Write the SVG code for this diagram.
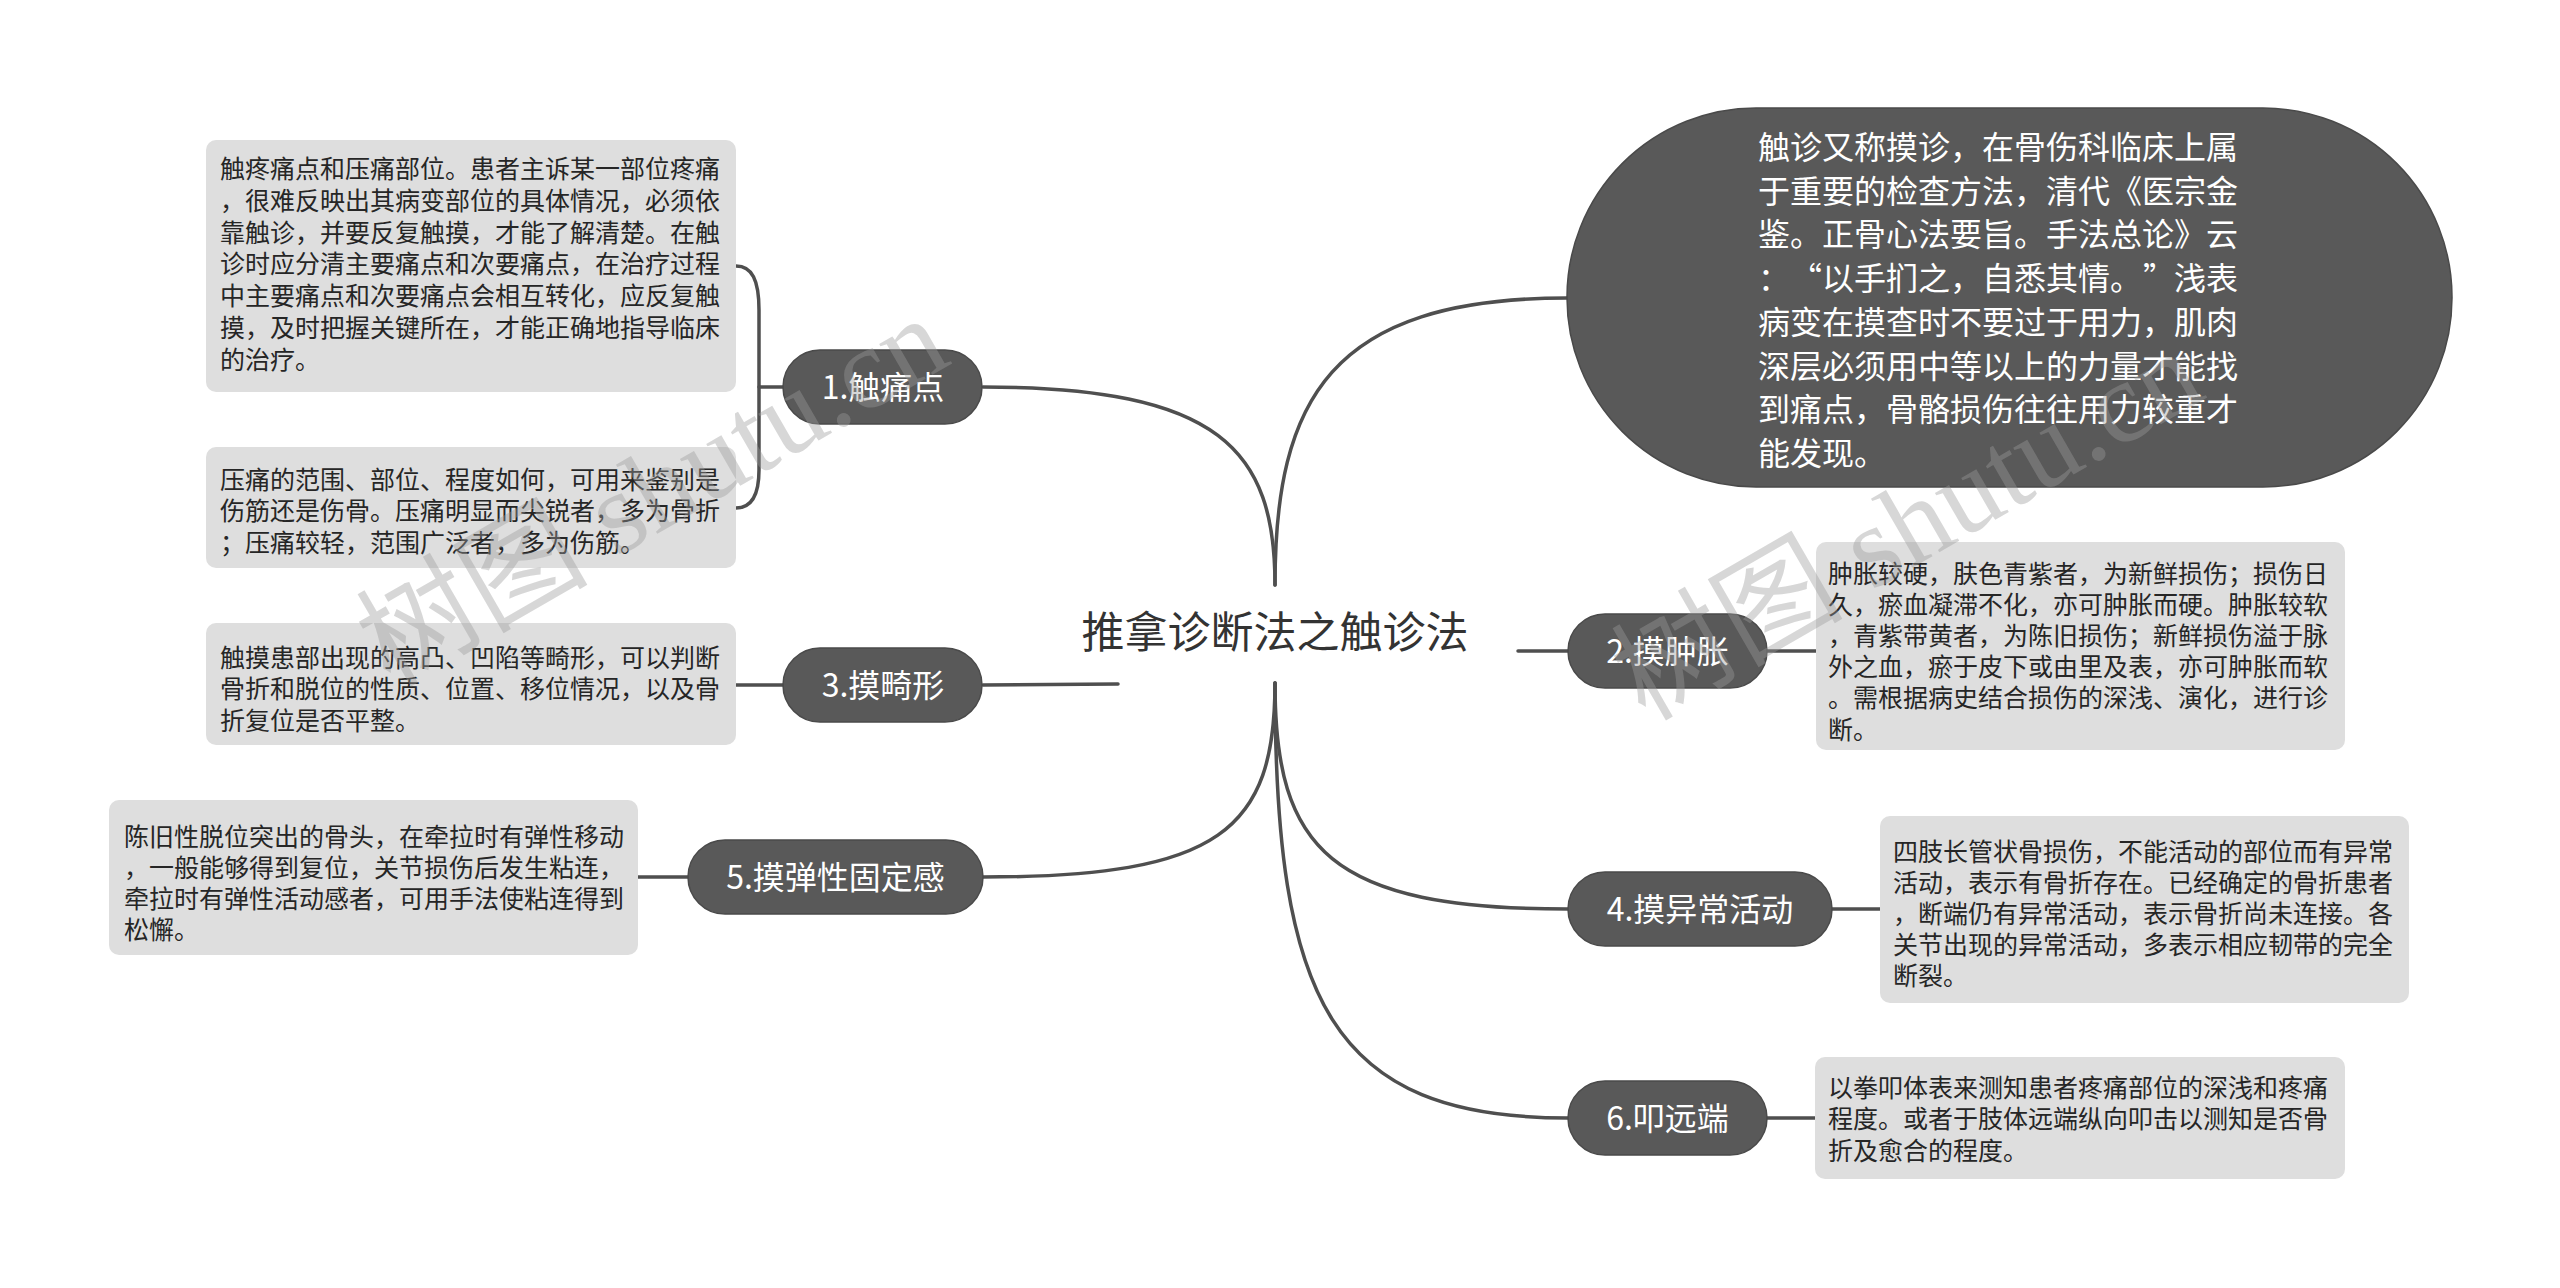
<svg xmlns="http://www.w3.org/2000/svg" width="2560" height="1288" viewBox="0 0 2560 1288">
<style>
.bg{fill:#ffffff}
.pill{fill:#595959;stroke:#4a4a4a;stroke-width:1.5}
.box{fill:#dedede}
.ptxt{font-family:"Noto Sans CJK SC","Noto Sans",sans-serif;font-size:32px;fill:#ffffff;text-anchor:middle}
.btxt{font-family:"Noto Sans CJK SC","Noto Sans",sans-serif;font-size:25px;fill:#262626}
.dtxt{font-family:"Noto Sans CJK SC","Noto Sans",sans-serif;font-size:32px;fill:#ffffff}
.root{font-family:"Noto Sans CJK SC","Noto Sans",sans-serif;font-size:43px;fill:#333333;text-anchor:middle}
.conn path{fill:none;stroke:#4f4f4f;stroke-width:3.5;stroke-linecap:round}
.wm{font-family:"Liberation Serif","Noto Sans CJK SC",serif;font-size:116px;fill:#9a9a9a;fill-opacity:0.4}
</style>
<rect class="bg" x="0" y="0" width="2560" height="1288"/>

<g id="connectors" class="conn">
  <path d="M983,387 C1220,387 1275,450 1275,585"/>
  <path d="M1275,585 C1275,400 1330,298 1567,298"/>
  <path d="M1275,683 C1275,830 1220,877 983,877"/>
  <path d="M1275,683 C1275,850 1330,909 1568,909"/>
  <path d="M1275,683 C1275,1000 1330,1118 1568,1118"/>
  <path d="M983,685 L1118,684"/>
  <path d="M1518,651 L1568,651"/>
  <path d="M736,266 C752,266 759,280 759,310 L759,470 C759,495 752,508 736,508"/>
  <path d="M759,387 L783,387"/>
  <path d="M736,685 L783,685"/>
  <path d="M638,877 L688,877"/>
  <path d="M1767,651 L1816,651"/>
  <path d="M1832,909 L1880,909"/>
  <path d="M1767,1118 L1815,1118"/>
</g>

<g id="root">
  <text class="root" x="1275" y="648">推拿诊断法之触诊法</text>
</g>

<g id="node-intro">
  <rect class="pill" x="1567" y="108" width="885" height="379" rx="189" ry="189"/>
  <text class="dtxt" x="1758" y="159">
    <tspan x="1758" dy="0">触诊又称摸诊，在骨伤科临床上属</tspan>
    <tspan x="1758" dy="43.7">于重要的检查方法，清代《医宗金</tspan>
    <tspan x="1758" dy="43.7">鉴。正骨心法要旨。手法总论》云</tspan>
  </text>
  <text class="dtxt" x="1758" y="290.1">：</text>
  <text class="dtxt" x="1822" y="290.1" text-anchor="end">“</text>
  <text class="dtxt" x="1822" y="290.1">以手扪之，自悉其情。</text>
  <text class="dtxt" x="2143" y="290.1">”</text>
  <text class="dtxt" x="2174" y="290.1">浅表</text>
  <text class="dtxt" x="1758" y="333.8">
    <tspan x="1758" dy="0">病变在摸查时不要过于用力，肌肉</tspan>
    <tspan x="1758" dy="43.7">深层必须用中等以上的力量才能找</tspan>
    <tspan x="1758" dy="43.7">到痛点，骨骼损伤往往用力较重才</tspan>
    <tspan x="1758" dy="43.7">能发现。</tspan>
  </text>
</g>

<g id="node-1">
  <rect class="pill" x="783" y="350" width="199" height="74" rx="37"/>
  <text class="ptxt" x="883" y="399">1.触痛点</text>
</g>
<g id="node-1a">
  <rect class="box" x="206" y="140" width="530" height="252" rx="10"/>
  <text class="btxt" x="220" y="178">
    <tspan x="220" dy="0">触疼痛点和压痛部位。患者主诉某一部位疼痛</tspan>
    <tspan x="220" dy="31.8">，很难反映出其病变部位的具体情况，必须依</tspan>
    <tspan x="220" dy="31.8">靠触诊，并要反复触摸，才能了解清楚。在触</tspan>
    <tspan x="220" dy="31.8">诊时应分清主要痛点和次要痛点，在治疗过程</tspan>
    <tspan x="220" dy="31.8">中主要痛点和次要痛点会相互转化，应反复触</tspan>
    <tspan x="220" dy="31.8">摸，及时把握关键所在，才能正确地指导临床</tspan>
    <tspan x="220" dy="31.8">的治疗。</tspan>
  </text>
</g>
<g id="node-1b">
  <rect class="box" x="206" y="447" width="530" height="121" rx="10"/>
  <text class="btxt" x="220" y="488.5">
    <tspan x="220" dy="0">压痛的范围、部位、程度如何，可用来鉴别是</tspan>
    <tspan x="220" dy="31.8">伤筋还是伤骨。压痛明显而尖锐者，多为骨折</tspan>
    <tspan x="220" dy="31.8">；压痛较轻，范围广泛者，多为伤筋。</tspan>
  </text>
</g>

<g id="node-3">
  <rect class="pill" x="783" y="648" width="199" height="74" rx="37"/>
  <text class="ptxt" x="883" y="697">3.摸畸形</text>
</g>
<g id="node-3a">
  <rect class="box" x="206" y="623" width="530" height="122" rx="10"/>
  <text class="btxt" x="220" y="666.5">
    <tspan x="220" dy="0">触摸患部出现的高凸、凹陷等畸形，可以判断</tspan>
    <tspan x="220" dy="31.8">骨折和脱位的性质、位置、移位情况，以及骨</tspan>
    <tspan x="220" dy="31.8">折复位是否平整。</tspan>
  </text>
</g>

<g id="node-5">
  <rect class="pill" x="688" y="840" width="295" height="74" rx="37"/>
  <text class="ptxt" x="835.5" y="889">5.摸弹性固定感</text>
</g>
<g id="node-5a">
  <rect class="box" x="109" y="800" width="529" height="155" rx="10"/>
  <text class="btxt" x="124" y="845.5">
    <tspan x="124" dy="0">陈旧性脱位突出的骨头，在牵拉时有弹性移动</tspan>
    <tspan x="124" dy="31.2">，一般能够得到复位，关节损伤后发生粘连，</tspan>
    <tspan x="124" dy="31.2">牵拉时有弹性活动感者，可用手法使粘连得到</tspan>
    <tspan x="124" dy="31.2">松懈。</tspan>
  </text>
</g>

<g id="node-2">
  <rect class="pill" x="1568" y="614" width="199" height="74" rx="37"/>
  <text class="ptxt" x="1667.5" y="663">2.摸肿胀</text>
</g>
<g id="node-2a">
  <rect class="box" x="1816" y="542" width="529" height="208" rx="10"/>
  <text class="btxt" x="1828" y="582.5">
    <tspan x="1828" dy="0">肿胀较硬，肤色青紫者，为新鲜损伤；损伤日</tspan>
    <tspan x="1828" dy="31.2">久，瘀血凝滞不化，亦可肿胀而硬。肿胀较软</tspan>
    <tspan x="1828" dy="31.2">，青紫带黄者，为陈旧损伤；新鲜损伤溢于脉</tspan>
    <tspan x="1828" dy="31.2">外之血，瘀于皮下或由里及表，亦可肿胀而软</tspan>
    <tspan x="1828" dy="31.2">。需根据病史结合损伤的深浅、演化，进行诊</tspan>
    <tspan x="1828" dy="31.2">断。</tspan>
  </text>
</g>

<g id="node-4">
  <rect class="pill" x="1568" y="872" width="264" height="74" rx="37"/>
  <text class="ptxt" x="1700" y="921">4.摸异常活动</text>
</g>
<g id="node-4a">
  <rect class="box" x="1880" y="816" width="529" height="187" rx="10"/>
  <text class="btxt" x="1893" y="860.5">
    <tspan x="1893" dy="0">四肢长管状骨损伤，不能活动的部位而有异常</tspan>
    <tspan x="1893" dy="31">活动，表示有骨折存在。已经确定的骨折患者</tspan>
    <tspan x="1893" dy="31">，断端仍有异常活动，表示骨折尚未连接。各</tspan>
    <tspan x="1893" dy="31">关节出现的异常活动，多表示相应韧带的完全</tspan>
    <tspan x="1893" dy="31">断裂。</tspan>
  </text>
</g>

<g id="node-6">
  <rect class="pill" x="1568" y="1081" width="199" height="74" rx="37"/>
  <text class="ptxt" x="1667.5" y="1130">6.叩远端</text>
</g>
<g id="node-6a">
  <rect class="box" x="1815" y="1057" width="530" height="122" rx="10"/>
  <text class="btxt" x="1828" y="1096.5">
    <tspan x="1828" dy="0">以拳叩体表来测知患者疼痛部位的深浅和疼痛</tspan>
    <tspan x="1828" dy="31.5">程度。或者于肢体远端纵向叩击以测知是否骨</tspan>
    <tspan x="1828" dy="31.5">折及愈合的程度。</tspan>
  </text>
</g>

<g id="watermarks">
  <text class="wm" transform="translate(390,688) rotate(-30)">树图 shutu.cn</text>
  <text class="wm" transform="translate(1645,722) rotate(-30)">树图 shutu.cn</text>
</g>
</svg>
